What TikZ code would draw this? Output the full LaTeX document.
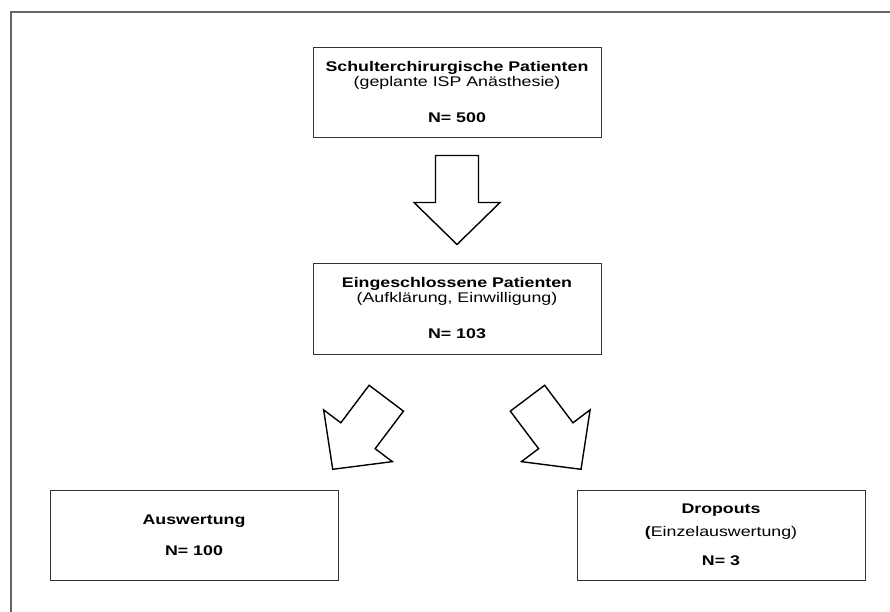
\documentclass[tikz,border=0pt]{standalone}
\usepackage{fontspec}
\setmainfont{Liberation Sans}[FakeStretch=1.27]
\usetikzlibrary{calc}

\tikzset{
    box/.style={draw=black!80, line width=0.9pt, minimum width=288pt, minimum height=90pt,
        inner sep=0pt, align=center, font=\fontsize{14}{14.5}\selectfont},
    fatarrow/.pic={
        \draw[line width=1.4pt, fill=white] (-44.5,21.5) -- (2.5,21.5) -- (2.5,43) -- (44.5,0)
            -- (2.5,-43) -- (2.5,-21.5) -- (-44.5,-21.5) -- cycle;
    }
}

\begin{document}
\begin{tikzpicture}[x=1pt, y=1pt]
    \useasboundingbox (0,0) rectangle (890,-612);
    \draw[black!60, line width=1.5pt] (11,-612) -- (11,-12) -- (890,-12);

    \node [box] (total) at (457,-92) {\textbf{Schulterchirurgische Patienten}\\(geplante ISP Anästhesie)\\[22pt]\textbf{N= 500}};
    \node [box, minimum height=91pt] (included) at (457,-308.5) {\textbf{Eingeschlossene Patienten}\\(Aufklärung, Einwilligung)\\[22pt]\textbf{N= 103}};
    \node [box] (evaluated) at (194,-535) {\textbf{Auswertung}\\[16pt]\textbf{N= 100}};
    \node [box] (dropouts) at (721,-535) {\textbf{Dropouts}\\[8pt]{\bfseries(}Einzelauswertung)\\[15pt]\textbf{N= 3}};

    \pic [rotate=-90] at ($(total.south)!0.5!(included.north)$) {fatarrow};
    \pic [rotate=233] at (359.5,-433.75) {fatarrow};
    \pic [rotate=307] at (554.25,-433.75) {fatarrow};
\end{tikzpicture}
\end{document}
